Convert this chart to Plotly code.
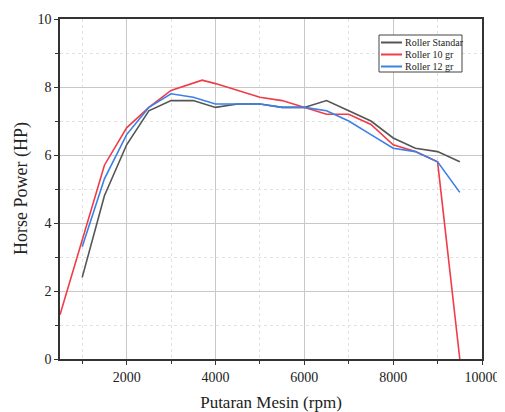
import plotly.graph_objects as go

rpm_std = [1000, 1500, 2000, 2500, 3000, 3500, 4000, 4500, 5000, 5500, 6000, 6500, 7000, 7500, 8000, 8500, 9000, 9500]
hp_std = [2.4, 4.8, 6.3, 7.3, 7.6, 7.6, 7.4, 7.5, 7.5, 7.4, 7.4, 7.6, 7.3, 7.0, 6.5, 6.2, 6.1, 5.8]

rpm_10 = [500, 1000, 1500, 2000, 2500, 3000, 3700, 4000, 4500, 5000, 5500, 6000, 6500, 7000, 7500, 8000, 8500, 9000, 9500]
hp_10 = [1.3, 3.5, 5.7, 6.8, 7.4, 7.9, 8.2, 8.1, 7.9, 7.7, 7.6, 7.4, 7.2, 7.2, 6.9, 6.3, 6.1, 5.8, 0.0]

rpm_12 = [1000, 1500, 2000, 2500, 3000, 3500, 4000, 4500, 5000, 5500, 6000, 6500, 7000, 7500, 8000, 8500, 9000, 9500]
hp_12 = [3.3, 5.3, 6.6, 7.4, 7.8, 7.7, 7.5, 7.5, 7.5, 7.4, 7.4, 7.3, 7.0, 6.6, 6.2, 6.1, 5.8, 4.9]

x_ticks = [2000, 4000, 6000, 8000, 10000]
x_ticklabels = ["2000", "4000", "6000", "8000", "10000"]
x_minor = [1000, 3000, 5000, 7000, 9000]
y_ticks = [0, 2, 4, 6, 8, 10]
y_minor = [1, 3, 5, 7, 9]

names = ["Roller Standar", "Roller 10 gr", "Roller 12 gr"]
colors = ["#555555", "#f03c46", "#3a80e6"]

font = "Liberation Serif, Times New Roman, serif"

fig = go.Figure()
for x, y, n, c in [(rpm_std, hp_std, names[0], colors[0]),
                   (rpm_10, hp_10, names[1], colors[1]),
                   (rpm_12, hp_12, names[2], colors[2])]:
    fig.add_trace(go.Scatter(x=x, y=y, mode="lines", name=n, showlegend=False,
                             line=dict(color=c, width=1.6)))

# page body has an 8px margin, so the figure is drawn offset by (8, 8)
OFF = 8
W, H = 505 - OFF, 412 - OFF
L, R, T, B = 60 - OFF, 23, 19 - OFF, 53
pw, ph = W - L - R, H - T - B
def px(x): return (x - OFF - L) / pw
def py(y): return (H - B - (y - OFF)) / ph

# compact legend drawn in paper coordinates
fig.add_shape(type="rect", xref="paper", yref="paper",
              x0=px(379), x1=px(462), y0=py(72), y1=py(35),
              line=dict(color="#444", width=1), fillcolor="white", layer="above")
for i, (n, c) in enumerate(zip(names, colors)):
    yy = 42.5 + i * 12
    fig.add_shape(type="line", xref="paper", yref="paper",
                  x0=px(381), x1=px(402), y0=py(yy), y1=py(yy),
                  line=dict(color=c, width=2), layer="above")
    fig.add_annotation(xref="paper", yref="paper", x=px(403), y=py(yy),
                       xanchor="left", yanchor="middle", showarrow=False,
                       text=n, font=dict(family=font, size=10, color="#222"))

# y axis title
fig.add_annotation(xref="paper", yref="paper", x=px(21), y=py(189),
                   xanchor="center", yanchor="middle", showarrow=False,
                   textangle=-90, text="Horse Power (HP)",
                   font=dict(family=font, size=18, color="#222"))

fig.update_layout(
    width=W, height=H,
    margin=dict(l=L, r=R, t=T, b=B, autoexpand=False),
    paper_bgcolor="white", plot_bgcolor="white",
    font=dict(family=font, size=14, color="#222"),
    showlegend=False,
    xaxis=dict(range=[500, 10000], tickvals=x_ticks, ticktext=x_ticklabels,
               automargin=False,
               showgrid=True, gridcolor="#c8c8c8", gridwidth=1,
               showline=True, linecolor="#333", linewidth=1.5, mirror=True,
               ticks="outside", ticklen=4, tickcolor="#333",
               minor=dict(tickvals=x_minor, showgrid=True,
                          gridcolor="#e2e2e2", griddash="dot", ticks="outside",
                          ticklen=3, tickcolor="#333"),
               title=dict(text="Putaran Mesin (rpm)", font=dict(size=17)),
               zeroline=False),
    yaxis=dict(range=[0, 10], tickvals=y_ticks,
               automargin=False,
               showgrid=True, gridcolor="#c8c8c8", gridwidth=1,
               showline=True, linecolor="#333", linewidth=1.5, mirror=True,
               ticks="outside", ticklen=4, tickcolor="#333",
               minor=dict(tickvals=y_minor, showgrid=True,
                          gridcolor="#e2e2e2", griddash="dot", ticks="outside",
                          ticklen=3, tickcolor="#333"),
               zeroline=False),
)

fig.write_html("out.html")
